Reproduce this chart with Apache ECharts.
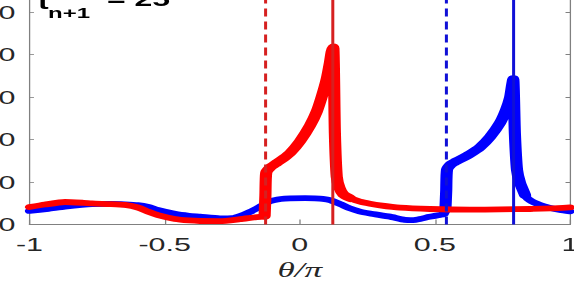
<!DOCTYPE html>
<html>
<head>
<meta charset="utf-8">
<script src="https://cdn.jsdelivr.net/npm/echarts@6/dist/echarts.min.js"></script>
<style>
  html, body { margin: 0; padding: 0; background: #fff; overflow: hidden; width: 574px; height: 287px; }
  #c { height: 287px; transform-origin: 0 0; }
</style>
</head>
<body>
<div id="c"></div>
<script>
// ---- data ----
const xTicks = [-1, -0.5, 0, 0.5, 1];
const yTicks = [0, 10, 20, 30, 40, 50];
const yTop = 55; // axis continues above the visible frame

const titleMain = 't';
const titleSub = 'n+1';
const titleRest = '= 25';
const xName = 'θ/π';

const blueTheta = [-1, -0.93, -0.869, -0.769, -0.70, -0.647, -0.599, -0.56, -0.525, -0.462, -0.41, -0.369, -0.295, -0.25, -0.221, -0.19, -0.158, -0.13, -0.110, -0.07, -0.036, 0.02, 0.056, 0.085, 0.112, 0.15, 0.186, 0.22, 0.26, 0.334, 0.389, 0.42, 0.445, 0.48, 0.519, 0.535, 0.539, 0.542, 0.545, 0.56, 0.574, 0.593, 0.63, 0.667, 0.704, 0.741, 0.763, 0.778, 0.785, 0.790, 0.796, 0.804, 0.815, 0.834, 0.852, 0.889, 0.926, 0.963, 1];
const blueValue = [3.2, 3.7, 4.2, 4.8, 4.85, 4.75, 4.55, 4.1, 3.4, 2.5, 2.05, 1.85, 1.45, 1.5, 2.0, 2.8, 3.8, 4.8, 5.5, 6.0, 6.15, 6.2, 6.15, 6.05, 5.75, 4.8, 3.8, 3.1, 2.6, 1.85, 1.1, 1.05, 1.3, 1.8, 2.25, 2.5, 3.5, 8, 12.9, 14.2, 14.7, 15.3, 16.6, 18.2, 20.6, 23.9, 26.9, 29.8, 32.5, 34.2, 21.5, 12.8, 9.8, 6.9, 5.7, 4.6, 3.9, 3.4, 3.1];

const redTheta = [-1, -0.943, -0.869, -0.80, -0.769, -0.70, -0.647, -0.599, -0.56, -0.525, -0.462, -0.41, -0.369, -0.295, -0.221, -0.17, -0.140, -0.130, -0.127, -0.124, -0.110, -0.085, -0.06, -0.036, 0.001, 0.038, 0.063, 0.082, 0.100, 0.112, 0.118, 0.124, 0.130, 0.137, 0.147, 0.161, 0.186, 0.223, 0.26, 0.297, 0.371, 0.482, 0.630, 0.741, 0.852, 0.93, 1];
const redValue = [4.1, 4.7, 5.3, 5.1, 4.95, 4.8, 4.6, 4.0, 3.0, 2.2, 1.3, 0.95, 0.82, 0.8, 1.25, 1.65, 1.85, 2.0, 7, 12.2, 13.4, 14.5, 15.6, 16.8, 19.6, 23.3, 26.6, 30.2, 34.3, 38.2, 40.6, 41.7, 21.5, 11.2, 8.6, 7.1, 6.2, 5.4, 4.9, 4.5, 3.95, 3.65, 3.5, 3.55, 3.65, 3.8, 4.05];

const redDashedAt = -0.1286;
const redSolidAt = 0.1244;
const blueDashedAt = 0.5399;
const blueSolidAt = 0.7900;

// theta ranges where the curves are drawn with a heavier stroke
const redPulseRange = [-0.131, 0.19];
const bluePulseRange = [0.536, 0.836];

// ---- layout (the reference is horizontally stretched) ----
const S = 1.6;
const W = 574 / S;
const dom = document.getElementById('c');
dom.style.width = W + 'px';
dom.style.transform = 'scaleX(' + S + ')';

const chart = echarts.init(dom, null, { renderer: 'svg', width: W, height: 287 });

const zip = (a, b) => a.map((v, i) => [v, b[i]]);
const within = (pts, r) => pts.filter(p => p[0] >= r[0] && p[0] <= r[1]);
const FONT = 'Liberation Sans';
const axisCol = '#808080';
const lw = 5.8;
const lwPulse = 7.6;

const bluePts = zip(blueTheta, blueValue);
const redPts = zip(redTheta, redValue);

const yAxisBase = {
  type: 'value', min: yTicks[0], max: yTop, interval: yTicks[1] - yTicks[0],
  splitLine: { show: false },
  axisLine: { show: true, onZero: false, lineStyle: { color: axisCol, width: 0.8 } },
  axisTick: { show: true, inside: true, length: 2.8, lineStyle: { color: axisCol, width: 0.8 } }
};

const lineSeries = (name, pts, color, width, z) => ({
  type: 'line', name: name, data: pts, showSymbol: false, symbol: 'none', smooth: 0.2,
  lineStyle: { color: color, width: width, join: 'round', cap: 'round' }, z: z
});

chart.setOption({
  animation: false,
  backgroundColor: '#fff',
  grid: { left: 29.5 / S, right: 4 / S, top: -9.25, bottom: 62.5, containLabel: false, outerBoundsMode: 'none' },
  xAxis: {
    type: 'value', min: xTicks[0], max: xTicks[xTicks.length - 1], interval: xTicks[1] - xTicks[0],
    splitLine: { show: false },
    axisLine: { show: true, onZero: false, lineStyle: { color: axisCol, width: 1 } },
    axisTick: { show: true, inside: true, length: 5, lineStyle: { color: axisCol, width: 0.8 } },
    axisLabel: { color: '#262626', fontFamily: FONT, fontSize: 19, margin: 10 },
    name: xName, nameLocation: 'middle', nameGap: 45,
    nameTextStyle: { fontFamily: 'Liberation Serif', fontStyle: 'italic', fontSize: 22, color: '#262626', verticalAlign: 'middle' }
  },
  yAxis: [
    Object.assign({}, yAxisBase, {
      position: 'left',
      axisLabel: { color: '#262626', fontFamily: FONT, fontSize: 19, margin: 29.5 / S - 15.5 / S, showMaxLabel: false }
    }),
    Object.assign({}, yAxisBase, { position: 'right', axisLabel: { show: false } })
  ],
  graphic: [
    { type: 'text', x: 38 / S, y: 2, style: { text: titleMain, font: 'bold 20px "Liberation Sans"', fill: '#000', verticalAlign: 'middle' }, z: 100 },
    { type: 'text', x: 48 / S, y: 13, style: { text: titleSub, font: 'bold 15px "Liberation Sans"', fill: '#000', verticalAlign: 'middle' }, z: 100 },
    { type: 'text', x: 107 / S, y: -1, style: { text: titleRest, font: 'bold 20px "Liberation Sans"', fill: '#000', verticalAlign: 'middle' }, z: 100 }
  ],
  series: [
    lineSeries('blue', bluePts, '#0000ff', lw, 2),
    lineSeries('blue pulse', within(bluePts, bluePulseRange), '#0000ff', lwPulse, 2),
    lineSeries('red', redPts, '#ff0000', lw, 3),
    lineSeries('red pulse', within(redPts, redPulseRange), '#ff0000', lwPulse, 3),
    {
      type: 'line', name: 'shocks', data: [], z: 4,
      markLine: {
        silent: true, symbol: ['none', 'none'], label: { show: false }, animation: false,
        data: [
          { xAxis: redDashedAt, lineStyle: { color: '#d62020', width: 3 / S, type: [8, 5] } },
          { xAxis: redSolidAt, lineStyle: { color: '#d62020', width: 3 / S, type: 'solid' } },
          { xAxis: blueDashedAt, lineStyle: { color: '#1010d6', width: 3 / S, type: [8, 5] } },
          { xAxis: blueSolidAt, lineStyle: { color: '#1010d6', width: 3 / S, type: 'solid' } }
        ]
      }
    }
  ]
});
</script>
</body>
</html>
